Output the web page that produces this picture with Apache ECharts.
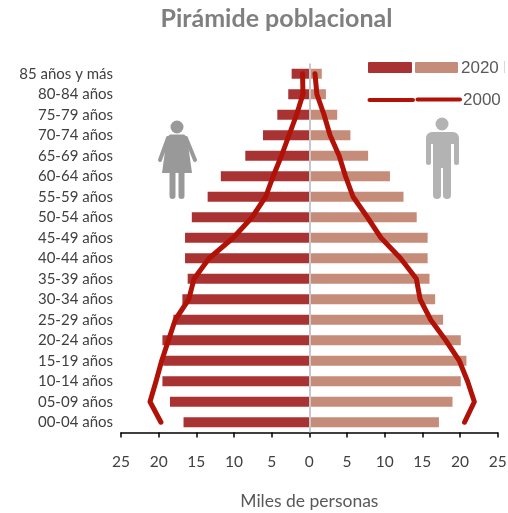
<!DOCTYPE html>
<html>
<head>
<meta charset="utf-8">
<title>Pirámide poblacional</title>
<script src="https://cdn.jsdelivr.net/npm/echarts@6/dist/echarts.min.js"></script>
<style>
  html, body { margin: 0; padding: 0; background: #fff; }
  #chart { width: 508px; height: 513px; }
</style>
</head>
<body>
<div id="chart"></div>
<script>
// de abajo hacia arriba, como el eje de categorias
var grupos = ["00-04 años", "05-09 años", "10-14 años", "15-19 años", "20-24 años", "25-29 años",
  "30-34 años", "35-39 años", "40-44 años", "45-49 años", "50-54 años", "55-59 años",
  "60-64 años", "65-69 años", "70-74 años", "75-79 años", "80-84 años", "85 años y más"];

var mujeres2020 = [16.7, 18.5, 19.5, 19.4, 19.5, 18.05, 16.85, 16.15, 16.5, 16.5, 15.6, 13.5, 11.75, 8.5, 6.15, 4.25, 2.8, 2.35];
var hombres2020 = [17.2, 19, 20.1, 20.85, 20.1, 17.75, 16.7, 15.95, 15.7, 15.7, 14.25, 12.5, 10.7, 7.8, 5.45, 3.7, 2.2, 1.65];
var mujeres2000 = [19.7, 21.15, 20.35, 19.6, 18.7, 17.8, 16, 15.3, 13.3, 10.1, 7.6, 5.8, 4.8, 3.7, 2.7, 1.7, 0.85, 0.9];
var hombres2000 = [20.6, 21.9, 21, 19.9, 18.1, 16.1, 14.7, 14.2, 12.1, 9.5, 7.7, 5.8, 4.8, 3.95, 2.75, 1.95, 1, 0.75];

var ticksX = [-25, -20, -15, -10, -5, 0, 5, 10, 15, 20, 25];

var rojo = "#a93232";
var salmon = "#c68c7a";
var rojoLinea = "#b01208";
var grisMujer = "#999";
var grisHombre = "#b3b3b3";

function negar(arr) {
  return arr.map(function (v) { return -v; });
}

var chart = echarts.init(document.getElementById("chart"), null, { renderer: "canvas" });

chart.setOption({
  animation: false,
  backgroundColor: "#fff",
  title: {
    text: "Pirámide poblacional",
    left: 271.5,
    top: 1,
    textAlign: "center",
    textStyle: { fontFamily: "Lato", fontSize: 25, fontWeight: "bold", color: "#7f7f7f" }
  },
  grid: { left: 121, right: 10.3, top: 63.5, bottom: 80.5, outerBoundsMode: "none" },
  xAxis: {
    type: "value",
    min: ticksX[0],
    max: ticksX[ticksX.length - 1],
    interval: 5,
    splitLine: { show: false },
    axisLine: { show: true, onZero: false, lineStyle: { color: "#000", width: 1.5 } },
    axisTick: { show: true, length: 5, lineStyle: { color: "#000", width: 1.5 } },
    axisLabel: {
      margin: 21,
      fontFamily: "Lato",
      fontSize: 15.5,
      color: "#404040",
      formatter: function (v) { return Math.abs(v); }
    },
    name: "Miles de personas",
    nameLocation: "middle",
    nameGap: 60,
    nameTextStyle: { fontFamily: "Lato", fontSize: 17.5, color: "#595959" }
  },
  yAxis: {
    type: "category",
    data: grupos,
    axisLine: { show: false },
    axisTick: { show: false },
    axisLabel: { margin: 8, fontFamily: "Lato", fontSize: 15, color: "#404040" }
  },
  series: [
    {
      name: "Mujeres 2020", type: "bar", stack: "p", barWidth: 10,
      data: negar(mujeres2020), itemStyle: { color: rojo }
    },
    {
      name: "Hombres 2020", type: "bar", stack: "p", barWidth: 10,
      data: hombres2020, itemStyle: { color: salmon },
      markLine: {
        silent: true, symbol: "none", label: { show: false }, z: 3,
        lineStyle: { color: "#c8c8c8", type: "solid", width: 2 },
        data: [{ xAxis: 0 }]
      }
    },
    {
      name: "Mujeres 2000", type: "line", data: negar(mujeres2000).map(function (v, i) { return [v, grupos[i]]; }),
      symbol: "none", z: 5, clip: false,
      lineStyle: { color: rojoLinea, width: 5, cap: "round", join: "round" }
    },
    {
      name: "Hombres 2000", type: "line", data: hombres2000.map(function (v, i) { return [v, grupos[i]]; }),
      symbol: "none", z: 5, clip: false,
      lineStyle: { color: rojoLinea, width: 5, cap: "round", join: "round" }
    }
  ],
  graphic: [
    // leyenda dibujada a mano, como en el original
    { type: "rect", shape: { x: 368, y: 62, width: 44, height: 11, r: 1 }, style: { fill: rojo } },
    { type: "rect", shape: { x: 415, y: 62, width: 43, height: 11, r: 1 }, style: { fill: salmon } },
    { type: "text", style: { x: 461, y: 68, text: "2020", fill: "#595959", font: "17px 'Liberation Sans'", textVerticalAlign: "middle" } },
    { type: "line", shape: { x1: 369.5, y1: 100, x2: 413, y2: 100 }, style: { stroke: rojoLinea, lineWidth: 4, lineCap: "round" } },
    { type: "line", shape: { x1: 417.5, y1: 99.5, x2: 460, y2: 99.5 }, style: { stroke: rojoLinea, lineWidth: 4, lineCap: "round" } },
    { type: "text", style: { x: 463, y: 100, text: "2000", fill: "#595959", font: "17px 'Liberation Sans'", textVerticalAlign: "middle" } },
    { type: "rect", shape: { x: 504, y: 61, width: 1, height: 12 }, style: { fill: "#d9d9d9" } },
    // mujer
    { type: "circle", shape: { cx: 177, cy: 127, r: 6.5 }, style: { fill: grisMujer } },
    { type: "polygon", shape: { points: [[170, 134.5], [184, 134.5], [187, 137], [192, 173], [162, 173], [167, 137]] }, style: { fill: grisMujer } },
    { type: "polyline", shape: { points: [[168, 138], [160, 160]] }, style: { stroke: grisMujer, fill: "none", lineWidth: 4, lineCap: "round" } },
    { type: "polyline", shape: { points: [[186, 138], [195, 160]] }, style: { stroke: grisMujer, fill: "none", lineWidth: 4, lineCap: "round" } },
    { type: "rect", shape: { x: 169.5, y: 170, width: 6, height: 29, r: 3 }, style: { fill: grisMujer } },
    { type: "rect", shape: { x: 178.5, y: 170, width: 6, height: 29, r: 3 }, style: { fill: grisMujer } },
    // hombre
    { type: "circle", shape: { cx: 442, cy: 124, r: 6.5 }, style: { fill: grisHombre } },
    { type: "rect", shape: { x: 426, y: 132, width: 33, height: 12, r: [6, 6, 0, 0] }, style: { fill: grisHombre } },
    { type: "rect", shape: { x: 433, y: 140, width: 18, height: 28 }, style: { fill: grisHombre } },
    { type: "rect", shape: { x: 426, y: 138, width: 5, height: 27, r: 2.5 }, style: { fill: grisHombre } },
    { type: "rect", shape: { x: 454, y: 138, width: 5, height: 27, r: 2.5 }, style: { fill: grisHombre } },
    { type: "rect", shape: { x: 433, y: 160, width: 8, height: 39, r: 4 }, style: { fill: grisHombre } },
    { type: "rect", shape: { x: 443, y: 160, width: 8, height: 39, r: 4 }, style: { fill: grisHombre } }
  ]
});
</script>
</body>
</html>
